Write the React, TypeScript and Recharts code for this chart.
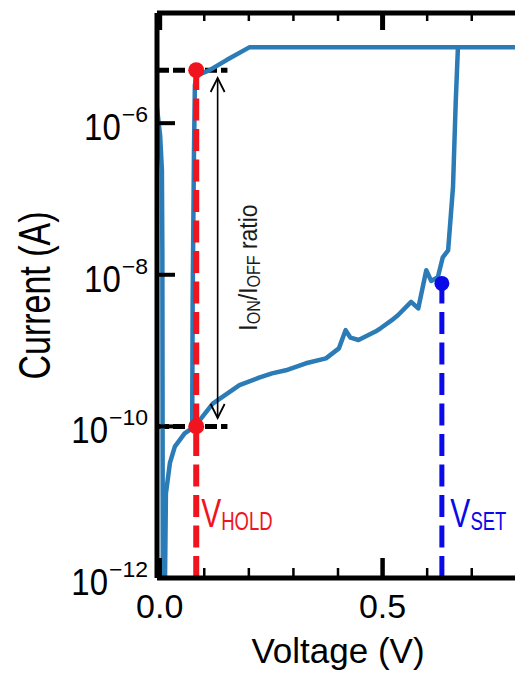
import React from 'react';
import { LineChart, Line, XAxis, YAxis, ReferenceLine, ReferenceDot } from 'recharts';

// ---------- data ----------
// I-V sweep, in measurement order (forward sweep, SET, compliance, backward sweep)
const sweepVoltage = [
  -0.008, 0.001, 0.005, 0.006, 0.007, 0.012, 0.014, 0.023, 0.034, 0.056,
  0.079, 0.119, 0.179, 0.223, 0.252, 0.283, 0.328, 0.373, 0.402, 0.417,
  0.428, 0.446, 0.484, 0.497, 0.52, 0.535, 0.564, 0.58, 0.598, 0.609,
  0.624, 0.635, 0.647, 0.658, 0.664, 0.669, 0.8, 0.201, 0.15, 0.112,
  0.085, 0.079, 0.077, 0.074, 0.073, 0.079,
];
const sweepCurrent = [
  2.0e-6, 6.9e-7, 2.4e-7, 2.1e-8, 1.0e-12, 1.0e-12, 1.3e-11, 3.3e-11, 5.4e-11, 8.1e-11,
  1.0e-10, 2.0e-10, 3.5e-10, 4.4e-10, 5.0e-10, 5.5e-10, 6.8e-10, 7.9e-10, 1.07e-9, 1.86e-9,
  1.48e-9, 1.38e-9, 1.78e-9, 2.0e-9, 2.5e-9, 2.95e-9, 4.4e-9, 3.6e-9, 1.15e-8, 8.3e-9,
  9.3e-9, 1.7e-8, 2.1e-8, 1.45e-7, 1.86e-6, 1.0e-5, 1.0e-5, 1.0e-5, 6.8e-6, 5.0e-6,
  4.3e-6, 3.2e-6, 4.5e-7, 4.7e-9, 1.2e-10, 1.0e-10,
];

const xDomain = [-0.006, 0.806];
const yDomain = [1e-12, 2.84e-5];
const xTicks = [0, 0.1, 0.2, 0.3, 0.4, 0.5, 0.6, 0.7, 0.8];
const xMajorTicks = [0, 0.5];
const xMajorTickLabels = ['0.0', '0.5'];
const yTicks = [1e-12, 1e-10, 1e-8, 1e-6];
const yTickExponents = ['\u221212', '\u221210', '\u22128', '\u22126'];

const holdVoltage = 0.082;
const onCurrent = 5.0e-6;
const offCurrent = 1.0e-10;
const setVoltage = 0.633;
const setCurrent = 7.7e-9;
const ratioArrowVoltage = 0.13;
const ratioArrowTop = 3.94e-6;
const ratioArrowBottom = 1.29e-10;
const guideEndVoltage = 0.152;

const xTitle = 'Voltage (V)';
const yTitle = 'Current (A)';

const chartData = sweepVoltage.map((v, k) => ({ v, i: sweepCurrent[k] }));

// ---------- style ----------
const FONT = '"Liberation Sans", Arial, Helvetica, sans-serif';
const CURVE = '#2b7bb6';
const RED = '#f0141e';
const BLUE = '#0a0ae8';

const isMajorX = (v: number) => xMajorTicks.some((m) => Math.abs(m - v) < 1e-9);

const BottomTick = (props: any) => {
  const { x, y, payload } = props;
  const v = payload.value;
  const idx = xMajorTicks.findIndex((m) => Math.abs(m - v) < 1e-9);
  const major = idx >= 0;
  return (
    <g>
      <line x1={x} x2={x} y1={y} y2={y - (major ? 20 : 10)} stroke="#000" strokeWidth={major ? 4.5 : 2.5} />
      {major && (
        <text x={x} y={y + 40} textAnchor="middle" fontSize={34} fontFamily={FONT} fill="#000">
          {xMajorTickLabels[idx]}
        </text>
      )}
    </g>
  );
};

const TopTick = (props: any) => {
  const { x, y, payload } = props;
  const major = isMajorX(payload.value);
  return (
    <line x1={x} x2={x} y1={y} y2={y + (major ? 17 : 8)} stroke="#000" strokeWidth={major ? 5 : 2.5} />
  );
};

const LeftTick = (props: any) => {
  const { x, y, payload } = props;
  const idx = yTicks.findIndex((t) => Math.abs(Math.log10(t) - Math.log10(payload.value)) < 1e-6);
  const exp = idx >= 0 ? yTickExponents[idx] : '';
  const supSize = 23;
  const digits = exp.length - 1;
  const supW = supSize * (0.584 + 0.556 * digits);
  const right = x - 9;
  return (
    <g>
      <line x1={x} x2={x + 18} y1={y} y2={y} stroke="#000" strokeWidth={4} />
      <text
        transform={`translate(${right}, ${y - 1}) scale(1, 0.92)`}
        textAnchor="end"
        fontSize={supSize}
        fontFamily={FONT}
        fill="#000"
      >
        {exp}
      </text>
      <text
        transform={`translate(${right - supW - 1}, ${y + 17}) scale(1, 1.12)`}
        textAnchor="end"
        fontSize={33}
        fontFamily={FONT}
        fill="#000"
      >
        10
      </text>
    </g>
  );
};

const XTitle = (props: any) => {
  const vb = props.viewBox || {};
  return (
    <text x={vb.x + vb.width / 2} y={vb.y + 85} textAnchor="middle" fontSize={35} fontFamily={FONT} fill="#000">
      {xTitle}
    </text>
  );
};

const YTitle = (props: any) => {
  const vb = props.viewBox || {};
  return (
    <text
      transform={`translate(${vb.x + 13}, ${vb.y + vb.height / 2}) rotate(-90) scale(1, 1.3)`}
      textAnchor="middle"
      fontSize={34}
      fontFamily={FONT}
      fill="#000"
    >
      {yTitle}
    </text>
  );
};

const MarkerLine = (props: any) => {
  const { x1, y1, x2, y2, color, width, main, sub, dx } = props;
  const bottom = Math.max(y1, y2);
  return (
    <g>
      <line x1={x1} y1={y1} x2={x2} y2={y2} stroke={color} strokeWidth={width} strokeDasharray="22 8.5" />
      <text
        transform={`translate(${x1 + dx}, ${bottom - 51}) scale(1, 1.35)`}
        fontSize={30}
        fontFamily={FONT}
        fill={color}
      >
        {main}
        <tspan fontSize={18.5} dy={2.2}>
          {sub}
        </tspan>
      </text>
    </g>
  );
};

const RatioArrow = (props: any) => {
  const { x1, y1, y2 } = props;
  const x = x1;
  const top = Math.min(y1, y2);
  const bottom = Math.max(y1, y2);
  const hw = 7;
  const hl = 14;
  return (
    <g>
      <line x1={x} y1={top} x2={x} y2={bottom} stroke="#000" strokeWidth={1.6} />
      <polyline points={`${x - hw},${top + hl} ${x},${top} ${x + hw},${top + hl}`} fill="none" stroke="#000" strokeWidth={1.8} />
      <polyline points={`${x - hw},${bottom - hl} ${x},${bottom} ${x + hw},${bottom - hl}`} fill="none" stroke="#000" strokeWidth={1.8} />
      <text
        transform={`translate(${x + 39}, ${(top + bottom) / 2 + 19.5}) rotate(-90) scale(1, 1.15)`}
        textAnchor="middle"
        fontSize={23}
        fontFamily={FONT}
        fill="#1a1a1a"
      >
        I
        <tspan fontSize={16} dy={3}>ON</tspan>
        <tspan dy={-3}>/I</tspan>
        <tspan fontSize={16} dy={3}>OFF</tspan>
        <tspan dy={-3}> ratio</tspan>
      </text>
    </g>
  );
};

export default function App() {
  return (
    <div
      style={{
        position: 'fixed',
        left: 0,
        top: 0,
        width: 515,
        height: 683,
        overflow: 'hidden',
        background: '#fff',
      }}
    >
      <LineChart width={520} height={683} data={chartData} margin={{ top: 8, right: 1, bottom: 45, left: 37 }}>
        <XAxis
          xAxisId="b"
          dataKey="v"
          type="number"
          domain={xDomain}
          allowDataOverflow
          ticks={xTicks}
          interval={0}
          height={60}
          tickSize={0}
          tickMargin={0}
          tickLine={false}
          axisLine={{ stroke: '#000', strokeWidth: 5 }}
          tick={(p: any) => <BottomTick {...p} />}
          label={(p: any) => <XTitle {...p} />}
        />
        <XAxis
          xAxisId="t"
          orientation="top"
          dataKey="v"
          type="number"
          domain={xDomain}
          allowDataOverflow
          ticks={xTicks}
          interval={0}
          height={5}
          tickSize={0}
          tickMargin={0}
          tickLine={false}
          axisLine={{ stroke: '#000', strokeWidth: 5 }}
          tick={(p: any) => <TopTick {...p} />}
        />
        <YAxis
          yAxisId="l"
          type="number"
          scale="log"
          domain={yDomain}
          allowDataOverflow
          ticks={yTicks}
          interval={0}
          width={120}
          tickSize={0}
          tickMargin={0}
          tickLine={false}
          axisLine={{ stroke: '#000', strokeWidth: 5 }}
          tick={(p: any) => <LeftTick {...p} />}
          label={(p: any) => <YTitle {...p} />}
        />

        <ReferenceLine
          xAxisId="b"
          yAxisId="l"
          segment={[{ x: xDomain[0], y: onCurrent }, { x: guideEndVoltage, y: onCurrent }]}
          stroke="#000"
          strokeWidth={5}
          strokeDasharray="12 4"
        />
        <ReferenceLine
          xAxisId="b"
          yAxisId="l"
          segment={[{ x: xDomain[0], y: offCurrent }, { x: guideEndVoltage, y: offCurrent }]}
          stroke="#000"
          strokeWidth={5}
          strokeDasharray="12 4"
        />

        <Line
          xAxisId="t"
          yAxisId="l"
          dataKey="i"
          stroke="none"
          dot={false}
          activeDot={false}
          legendType="none"
          isAnimationActive={false}
        />
        <Line
          xAxisId="b"
          yAxisId="l"
          dataKey="i"
          type="linear"
          stroke={CURVE}
          strokeWidth={4.5}
          strokeLinejoin="round"
          dot={false}
          activeDot={false}
          isAnimationActive={false}
        />

        <ReferenceLine
          xAxisId="b"
          yAxisId="l"
          segment={[{ x: holdVoltage, y: yDomain[0] }, { x: holdVoltage, y: onCurrent }]}
          shape={(p: any) => <MarkerLine {...p} color={RED} width={6} main="V" sub="HOLD" dx={5} />}
        />
        <ReferenceLine
          xAxisId="b"
          yAxisId="l"
          segment={[{ x: setVoltage, y: yDomain[0] }, { x: setVoltage, y: setCurrent }]}
          shape={(p: any) => <MarkerLine {...p} color={BLUE} width={5} main="V" sub="SET" dx={8.5} />}
        />
        <ReferenceLine
          xAxisId="b"
          yAxisId="l"
          segment={[{ x: ratioArrowVoltage, y: ratioArrowTop }, { x: ratioArrowVoltage, y: ratioArrowBottom }]}
          shape={(p: any) => <RatioArrow {...p} />}
        />

        <ReferenceDot xAxisId="b" yAxisId="l" x={holdVoltage} y={onCurrent} r={8} fill={RED} stroke="none" />
        <ReferenceDot xAxisId="b" yAxisId="l" x={holdVoltage} y={offCurrent} r={8} fill={RED} stroke="none" />
        <ReferenceDot xAxisId="b" yAxisId="l" x={setVoltage} y={setCurrent} r={7.5} fill={BLUE} stroke="none" />
      </LineChart>
    </div>
  );
}
